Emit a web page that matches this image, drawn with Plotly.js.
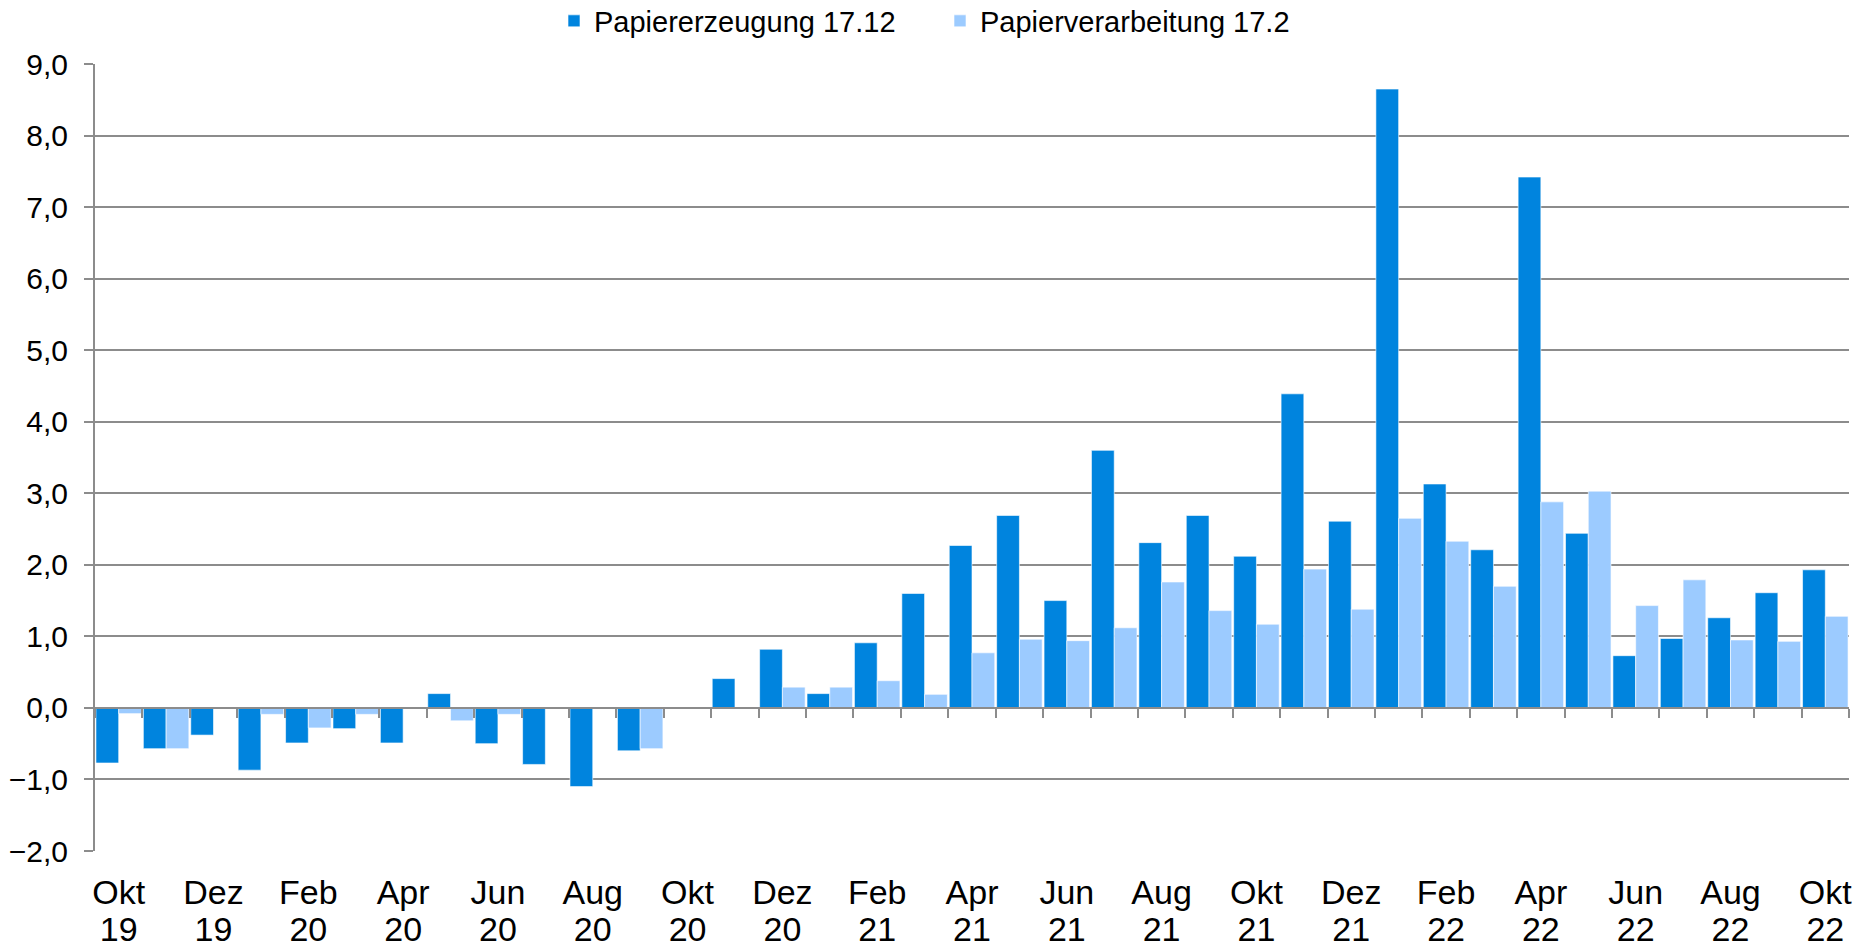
<!DOCTYPE html>
<html>
<head>
<meta charset="utf-8">
<script src="https://cdn.plot.ly/plotly-3.0.1.min.js"></script>
<style>html,body{margin:0;padding:0;background:#fff}#chart{width:1869px;height:950px}</style>
</head>
<body>
<div id="chart"></div>
<script>
const months = ["Okt 19","Nov 19","Dez 19","Jan 20","Feb 20","Mär 20","Apr 20","Mai 20","Jun 20","Jul 20","Aug 20","Sep 20","Okt 20","Nov 20","Dez 20","Jan 21","Feb 21","Mär 21","Apr 21","Mai 21","Jun 21","Jul 21","Aug 21","Sep 21","Okt 21","Nov 21","Dez 21","Jan 22","Feb 22","Mär 22","Apr 22","Mai 22","Jun 22","Jul 22","Aug 22","Sep 22","Okt 22"];
const papiererzeugung = [-0.77,-0.57,-0.38,-0.87,-0.49,-0.29,-0.49,0.20,-0.50,-0.79,-1.10,-0.60,0,0.41,0.82,0.20,0.91,1.60,2.27,2.69,1.50,3.60,2.31,2.69,2.12,4.39,2.61,8.65,3.13,2.21,7.42,2.44,0.73,0.97,1.26,1.61,1.93];
const papierverarbeitung = [-0.08,-0.57,0,-0.09,-0.28,-0.09,0,-0.18,-0.09,0,0,-0.57,0,0,0.29,0.29,0.38,0.19,0.77,0.96,0.94,1.12,1.76,1.36,1.17,1.94,1.38,2.65,2.33,1.70,2.88,3.03,1.43,1.79,0.95,0.93,1.28];
const seriesNames = ["Papiererzeugung 17.12","Papierverarbeitung 17.2"];
const yRange = [-2, 9];

const labelMonths = months.filter((m, i) => i % 2 === 0);
const monthText = labelMonths.map(m => m.split(" ")[0]);
const yearText = labelMonths.map(m => m.split(" ")[1]);

const font = "Arial, 'Liberation Sans', sans-serif";
const grid = "#8c8c8c";

const traces = [
  {type:"bar", name:seriesNames[0], x:months, y:papiererzeugung, marker:{color:"#0084DE", line:{color:"#ffffff", width:0.6}}, hoverinfo:"x+y"},
  {type:"bar", name:seriesNames[1], x:months, y:papierverarbeitung, marker:{color:"#9CCBFF", line:{color:"#ffffff", width:0.6}}, hoverinfo:"x+y"},
  {type:"scatter", mode:"lines", x:months, y:papiererzeugung, xaxis:"x2", line:{width:0}, opacity:0, showlegend:false, hoverinfo:"skip"},
  {type:"scatter", mode:"lines", x:months, y:papiererzeugung, xaxis:"x3", line:{width:0}, opacity:0, showlegend:false, hoverinfo:"skip"}
];

const catAxis = {type:"category", categoryorder:"array", categoryarray:months, range:[-0.5, months.length-0.5], fixedrange:true};

const layout = {
  width:1869, height:950,
  margin:{l:95, r:20, t:64, b:99},
  paper_bgcolor:"#fff", plot_bgcolor:"#fff",
  font:{family:font, color:"#000", size:30},
  separators:",.",
  barmode:"group", bargap:0.04, bargroupgap:0,
  showlegend:true,
  legend:{orientation:"h", xref:"container", yref:"container", x:554/1869, xanchor:"left", y:1-21/950, yanchor:"middle",
    font:{size:29, family:font}, itemwidth:30, entrywidth:341, tracegroupgap:0},
  xaxis:Object.assign({}, catAxis, {tickmode:"array", tickvals:labelMonths, ticktext:monthText, ticks:"", showgrid:false, showline:false, zeroline:false,
    ticklabelstandoff:18, tickfont:{size:34, family:font}}),
  xaxis3:Object.assign({}, catAxis, {overlaying:"x", anchor:"y", side:"bottom", tickmode:"array", tickvals:labelMonths, ticktext:yearText, ticks:"", showgrid:false, showline:false, zeroline:false,
    ticklabelstandoff:55, tickfont:{size:34, family:font}}),
  xaxis2:Object.assign({}, catAxis, {overlaying:"x", anchor:"free", position:(0 - yRange[0])/(yRange[1]-yRange[0]), side:"bottom",
    tickmode:"linear", tick0:0, dtick:1, tickson:"boundaries", ticks:"outside", ticklen:9, tickwidth:2, tickcolor:grid,
    showticklabels:false, showgrid:false, showline:true, linecolor:grid, linewidth:2, zeroline:false}),
  yaxis:{range:yRange, tickmode:"linear", tick0:-2, dtick:1, tickformat:".1f",
    showgrid:true, gridcolor:grid, gridwidth:2, zeroline:true, zerolinecolor:grid, zerolinewidth:2,
    showline:true, linecolor:grid, linewidth:2, ticks:"outside", ticklen:9, tickwidth:2, tickcolor:grid,
    tickfont:{size:30, family:font}, ticklabelstandoff:10, fixedrange:true}
};

Plotly.newPlot("chart", traces, layout, {displayModeBar:false, staticPlot:true});
</script>
</body>
</html>
